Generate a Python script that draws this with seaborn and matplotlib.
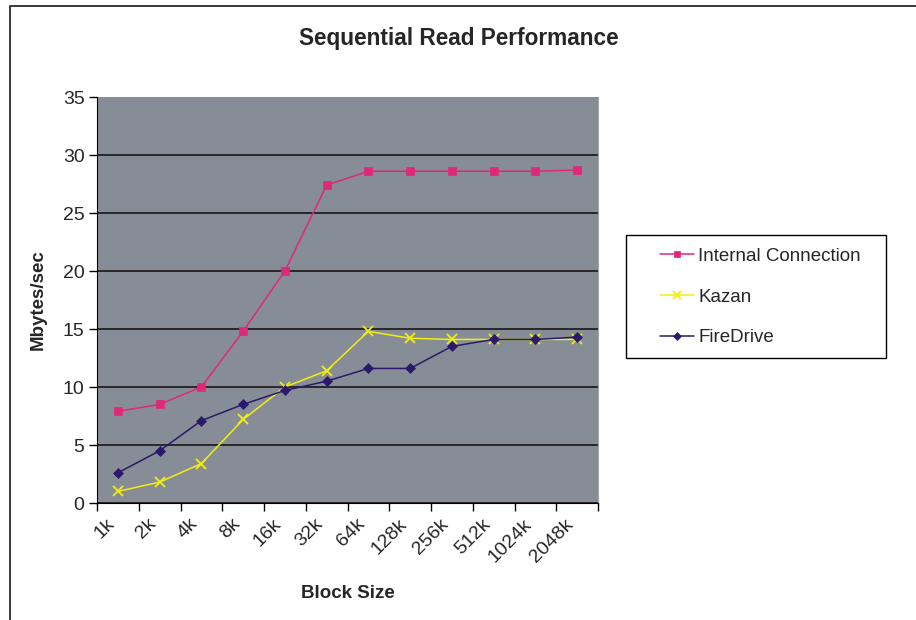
import matplotlib.pyplot as plt
import matplotlib.transforms as mtransforms
import numpy as np
import pandas as pd
import seaborn as sns
from matplotlib.lines import Line2D
from matplotlib.patches import Rectangle

block_sizes = ["1k", "2k", "4k", "8k", "16k", "32k", "64k", "128k", "256k", "512k", "1024k", "2048k"]
internal_connection = [7.9, 8.5, 10.0, 14.8, 20.0, 27.4, 28.6, 28.6, 28.6, 28.6, 28.6, 28.7]
kazan = [1.0, 1.8, 3.4, 7.2, 10.0, 11.4, 14.8, 14.2, 14.1, 14.1, 14.1, 14.1]
firedrive = [2.6, 4.5, 7.1, 8.5, 9.7, 10.5, 11.6, 11.6, 13.5, 14.1, 14.1, 14.3]

series_names = ["Internal Connection", "Kazan", "FireDrive"]
series_colors = ["#e0287a", "#f2ee10", "#2a1a6e"]
series_markers = ["s", "x", "D"]
series_msize = [6, 6.5, 5.5]

sns.set_style("white")
plt.rcParams["font.family"] = ["Liberation Sans", "DejaVu Sans"]

df = pd.DataFrame({
    "Block Size": block_sizes * 3,
    "Mbytes/sec": internal_connection + kazan + firedrive,
    "Series": np.repeat(series_names, len(block_sizes)),
})

fig = plt.figure(figsize=(9.16, 6.2), dpi=100)
ax = fig.add_axes([97 / 916, 117 / 620, 501 / 916, 406 / 620])
ax.set_facecolor("#878d96")

for name, color, marker, ms in zip(series_names, series_colors, series_markers, series_msize):
    sns.lineplot(
        data=df[df["Series"] == name], x="Block Size", y="Mbytes/sec",
        color=color, marker=marker, markersize=ms, markeredgecolor=color,
        markerfacecolor=color, markeredgewidth=1.3 if marker == "x" else 0.5,
        linewidth=1.1, sort=False, label=name, ax=ax, legend=False,
    )

ax.set_xlim(-0.5, len(block_sizes) - 0.5)
ax.set_ylim(0, 35)
ax.set_yticks(range(0, 36, 5))
ax.yaxis.grid(True, color="#231f20", linewidth=1.3)
ax.get_ygridlines()[-1].set_visible(False)
ax.xaxis.grid(False)

ax.spines["top"].set_visible(False)
ax.spines["right"].set_color("#a4a8ad")
ax.spines["left"].set_color("black")
ax.spines["bottom"].set_color("black")

# labels sit on categories, tick marks on the boundaries
ax.set_xticks(range(len(block_sizes)))
ax.set_xticklabels(block_sizes, rotation=45, ha="right", rotation_mode="anchor", fontsize=14)
ax.set_xticks(np.arange(-0.5, len(block_sizes)), minor=True)
ax.tick_params(axis="x", which="major", length=0, pad=9)
ax.tick_params(axis="x", which="minor", length=6, width=1, color="black", direction="out", bottom=True)
ax.tick_params(axis="y", length=6, width=1, color="black", direction="out", left=True, labelsize=14, pad=3)
offset = mtransforms.ScaledTranslation(-0.12, 0, fig.dpi_scale_trans)
for lbl in ax.get_xticklabels():
    lbl.set_transform(lbl.get_transform() + offset)

ax.set_xlabel("Block Size", fontsize=13.5, fontweight="bold")
ax.set_ylabel("Mbytes/sec", fontsize=13.5, fontweight="bold")
ax.xaxis.set_label_coords(0.5, -0.202)
ax.yaxis.set_label_coords(-0.1, 0.5)

fig.text(459 / 916, 1 - 38 / 620, "Sequential Read Performance",
         ha="center", va="center", fontsize=16.3, fontweight="bold")

handles, labels = ax.get_legend_handles_labels()
leg = ax.legend(handles, labels, loc="center left", bbox_to_anchor=(660 / 916, 1 - 297 / 620),
                bbox_transform=fig.transFigure, frameon=False, fontsize=13.5,
                borderpad=0, borderaxespad=0, handlelength=1.8, handletextpad=0.25,
                labelspacing=1.25, markerscale=0.8)
fig.add_artist(Rectangle((626 / 916, 1 - 358 / 620), 260 / 916, 123 / 620,
                         transform=fig.transFigure, fill=False, edgecolor="black", linewidth=1))

# outer chart frame (cropped on the right and bottom)
fig.add_artist(Line2D([10 / 916, 10 / 916, 1], [0, 1 - 6 / 620, 1 - 6 / 620],
                      transform=fig.transFigure, color="#3a3a3a", linewidth=1.4))

fig.savefig("out.png", dpi=100)
